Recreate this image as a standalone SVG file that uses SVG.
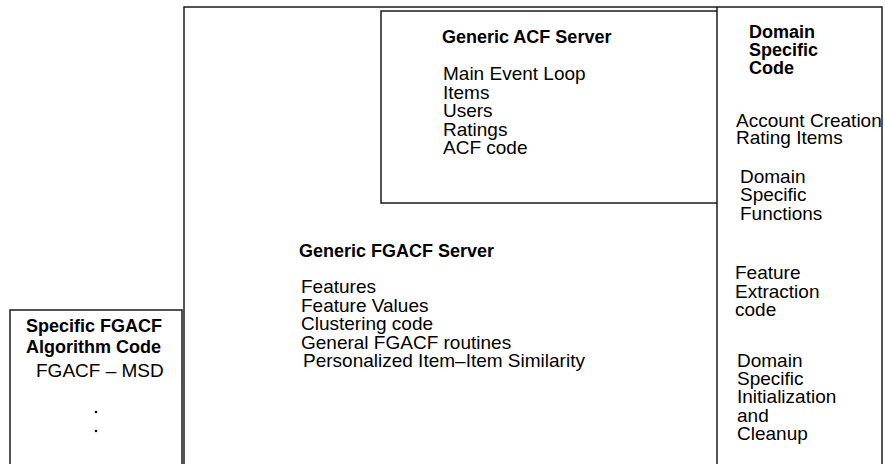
<svg xmlns="http://www.w3.org/2000/svg" width="885" height="464" viewBox="0 0 885 464">
<style>
.ln{fill:none;stroke:#1a1a1a;stroke-width:1.5}
.t{font-family:"Liberation Sans",Arial,Helvetica,sans-serif;font-size:19px;fill:#000}
.b{font-family:"Liberation Sans",Arial,Helvetica,sans-serif;font-size:18px;font-weight:bold;fill:#000}
</style>
<rect width="885" height="464" fill="#fff"/>
<g id="generic-fgacf-server">
<path class="ln" d="M184,464 V7 H882 V464"/>
<text class="b" x="299" y="257">Generic FGACF Server</text>
<text class="t" x="301" y="293">Features</text>
<text class="t" x="301" y="311.5">Feature Values</text>
<text class="t" x="301" y="330">Clustering code</text>
<text class="t" x="301" y="348.5">General FGACF routines</text>
<text class="t" x="303" y="367">Personalized Item–Item Similarity</text>
</g>
<g id="generic-acf-server">
<path class="ln" d="M717,11 H381 V203 H717"/>
<text class="b" x="442" y="43">Generic ACF Server</text>
<text class="t" x="443" y="80">Main Event Loop</text>
<text class="t" x="443" y="98.5">Items</text>
<text class="t" x="443" y="117">Users</text>
<text class="t" x="443" y="135.5">Ratings</text>
<text class="t" x="443" y="154">ACF code</text>
</g>
<g id="domain-specific-code">
<path class="ln" d="M717,7 V464"/>
<text class="b" x="749" y="38">Domain</text>
<text class="b" x="749" y="56">Specific</text>
<text class="b" x="749" y="74">Code</text>
<text class="t" x="736" y="127">Account Creation</text>
<text class="t" x="736" y="144">Rating Items</text>
<text class="t" x="740" y="183">Domain</text>
<text class="t" x="740" y="201">Specific</text>
<text class="t" x="740" y="220">Functions</text>
<text class="t" x="735" y="279">Feature</text>
<text class="t" x="735" y="297.5">Extraction</text>
<text class="t" x="735" y="316">code</text>
<text class="t" x="737" y="367">Domain</text>
<text class="t" x="737" y="385">Specific</text>
<text class="t" x="737" y="403">Initialization</text>
<text class="t" x="737" y="421.5">and</text>
<text class="t" x="737" y="440">Cleanup</text>
</g>
<g id="specific-fgacf-algorithm-code">
<path class="ln" d="M10,464 V310 H182 V464"/>
<text class="b" x="26" y="332">Specific FGACF</text>
<text class="b" x="26" y="353">Algorithm Code</text>
<text class="t" x="36" y="377">FGACF – MSD</text>
<circle cx="96" cy="412" r="1.3" fill="#000"/>
<circle cx="96" cy="431" r="1.3" fill="#000"/>
</g>
<g id="connectors"/>
</svg>
